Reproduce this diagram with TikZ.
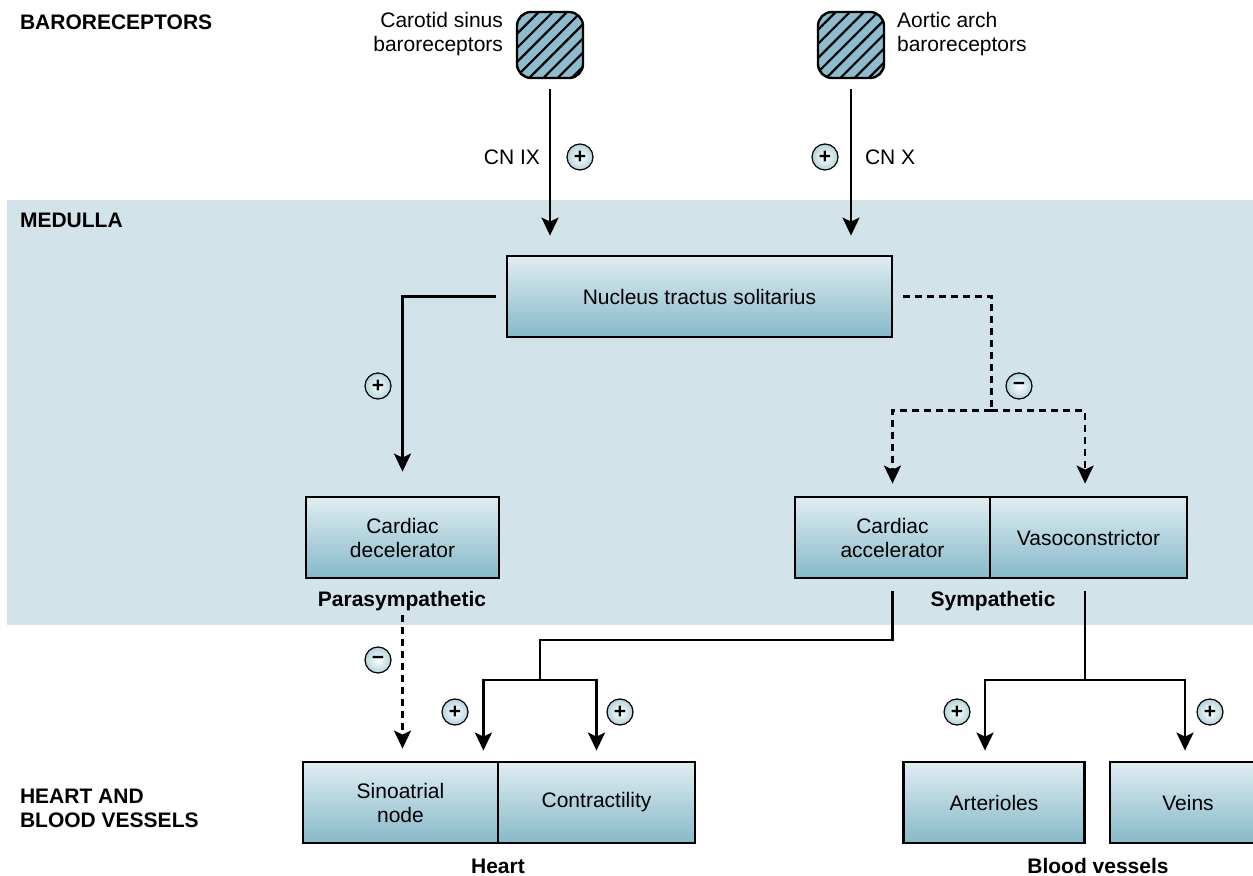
\documentclass[tikz,border=0pt]{standalone}
\usepackage{fontspec}
\setmainfont{Liberation Sans}
\usepackage{tikz}
\usetikzlibrary{positioning, arrows.meta, patterns.meta}
\definecolor{medullabg}{HTML}{D3E3EA}
\definecolor{boxtop}{HTML}{E0EDF2}
\definecolor{boxbottom}{HTML}{86B9C9}
\definecolor{receptorfill}{HTML}{8DBDCD}
\definecolor{signfill}{HTML}{B5D3DD}

\begin{document}
\begin{tikzpicture}[
        x=0.5pt, y=-0.5pt,
        every node/.style={font=\fontsize{10.5}{12}\selectfont, align=center},
        heading/.style={font=\fontsize{10.5}{12}\selectfont\bfseries, align=left, anchor=west},
        caption/.style={font=\fontsize{10.5}{12}\selectfont\bfseries},
        region/.style={rectangle, draw, line width=1.4pt, top color=boxtop, bottom color=boxbottom, minimum height=40.5pt, inner sep=2pt},
        receptor/.style={rectangle, rounded corners=7pt, draw, line width=1.2pt, preaction={fill=receptorfill}, pattern={Lines[angle=45, distance=5pt, line width=1.1pt]}, minimum size=33pt},
        sign/.style={circle, draw, line width=0.6pt, inner color=white, outer color=signfill, minimum size=13pt, inner sep=0pt, font=\fontsize{10.5}{11}\selectfont\bfseries},
        arrow/.style={-{Stealth[length=9pt, width=8.5pt, inset=2pt]}, line width=1.3pt},
        dashline/.style={line width=1.3pt, dash pattern=on 3.5pt off 2.5pt},
        link/.style={line width=1.3pt}
    ]
    \path[use as bounding box] (0,0) rectangle (1253,876);
    \clip (0,0) rectangle (1253,876);

    % Medulla band
    \fill[medullabg] (7,200) rectangle (1253,625);

    % Row headings
    \node[heading] (hbaro) at (13,22) {BARORECEPTORS};
    \node[heading] (hmedulla) at (13,220) {MEDULLA};
    \node[heading] (hheart) at (13,808) {HEART AND\\BLOOD VESSELS};

    % Baroreceptors
    \node[receptor] (carotid) at (550,45) {};
    \node[receptor] (aortic) at (851,45) {};
    \node[anchor=east, align=right] (carotidlabel) at (510,34) {Carotid sinus\\baroreceptors};
    \node[anchor=west, align=left] (aorticlabel) at (890,34) {Aortic arch\\baroreceptors};
    \node[anchor=east] (cnix) at (547,157) {CN IX};
    \node[anchor=west] (cnx) at (858,157) {CN X};

    % Medulla
    \node[region, minimum width=192.5pt] (nts) at (699.5,296.5) {Nucleus tractus solitarius};
    \node[region, minimum width=96.5pt] (decel) at (402.5,537.5) {Cardiac\\decelerator};
    \node[region, minimum width=97.5pt] (accel) at (892.5,537.5) {Cardiac\\accelerator};
    \node[region, minimum width=98.5pt, right=-1.4pt of accel] (vaso) {Vasoconstrictor};
    \node[caption] (paralabel) at (402,601) {Parasympathetic};
    \node[caption] (symlabel) at (993,601) {Sympathetic};

    % Heart and blood vessels
    \node[region, minimum width=97.5pt] (sa) at (400.5,802.5) {Sinoatrial\\node};
    \node[region, minimum width=98.5pt, right=-1.4pt of sa] (contr) {Contractility};
    \node[region, minimum width=90.5pt] (arter) at (994,802.5) {Arterioles};
    \node[region, minimum width=78pt] (veins) at (1188,802.5) {Veins};
    \node[caption] (heartlabel) at (498,866) {Heart};
    \node[caption] (vessellabel) at (1098,866) {Blood vessels};

    % Signs
    \node[sign] (scarotid) at (580,157) {+};
    \node[sign] (saortic) at (825,157) {+};
    \node[sign] (sdecel) at (378,386) {+};
    \node[sign] (ssym) at (1019,386) {−};
    \node[sign] (spara) at (378,660) {−};
    \node[sign] (ssa) at (455,712) {+};
    \node[sign] (scontr) at (620,712) {+};
    \node[sign] (sarter) at (957,712) {+};
    \node[sign] (sveins) at (1210,712) {+};

    % Arrows
    \coordinate (symsplit) at ([yshift=42.5pt]accel.north east);
    \coordinate (heartsplit) at (540,680);
    \coordinate (vesselsplit) at ([xshift=-1.7pt]vaso.south |- heartsplit);
    \draw[arrow, shorten <=5pt, shorten >=9.5pt] (carotid) -- (carotid |- nts.north);
    \draw[arrow, shorten <=5pt, shorten >=9.5pt] (aortic) -- (aortic |- nts.north);
    \draw[arrow, shorten >=12pt] ([xshift=-5pt]nts.west) -| (decel.north);
    \draw[dashline] ([xshift=5pt]nts.east) -| (symsplit);
    \draw[arrow, dashline, shorten >=6pt] (symsplit) -| (accel.north);
    \draw[arrow, dashline, shorten >=6pt] (symsplit) -| ([xshift=-1.7pt]vaso.north);
    \draw[arrow, dashline, shorten <=18pt, shorten >=6pt] (decel.south) -- (decel.south |- sa.north);
    \draw[link] ([yshift=-6pt]accel.south) |- ([yshift=20pt]heartsplit) -- (heartsplit);
    \draw[arrow, shorten >=5pt] (heartsplit) -| ([xshift=-8pt]sa.north east);
    \draw[arrow, shorten >=5pt] (heartsplit) -| (contr.north);
    \draw[link] ([xshift=-1.7pt, yshift=-6pt]vaso.south) -- (vesselsplit);
    \draw[arrow, shorten >=5pt] (vesselsplit) -| ([xshift=-4.5pt]arter.north);
    \draw[arrow, shorten >=5pt] (vesselsplit) -| ([xshift=-1.5pt]veins.north);

\end{tikzpicture}
\end{document}
